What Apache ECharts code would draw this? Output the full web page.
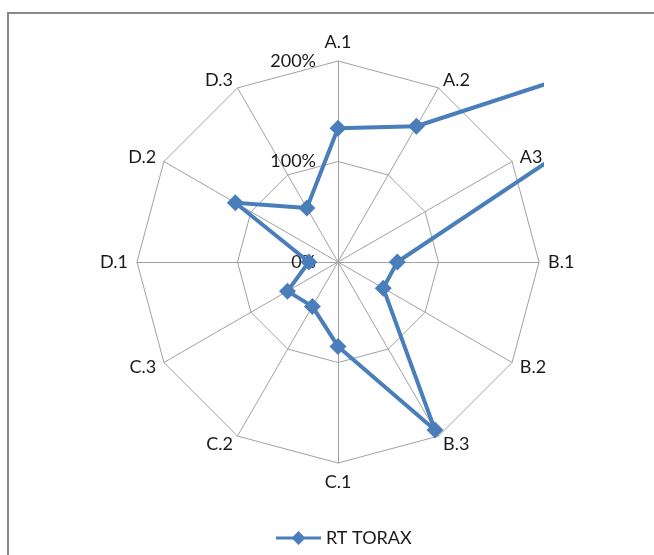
<!DOCTYPE html>
<html>
<head>
<meta charset="utf-8">
<script src="https://cdn.jsdelivr.net/npm/echarts@6/dist/echarts.min.js"></script>
<style>
  html, body { margin: 0; padding: 0; background: #fff; overflow: hidden; }
  #frame { position: absolute; left: 7px; top: 12px; width: 700px; height: 600px;
           border-left: 2px solid #878787; border-top: 2px solid #878787; box-sizing: border-box; }
  #base { position: absolute; left: 0; top: 0; width: 654px; height: 555px; }
  /* the series layer is cut off at the right edge of the plot area */
  #clip { position: absolute; left: 0; top: 0; width: 544px; height: 555px; overflow: hidden; }
  #over { width: 654px; height: 555px; }
</style>
</head>
<body>
<div id="frame"></div>
<div id="base"></div>
<div id="clip"><div id="over"></div></div>
<script>
// Axes, in clockwise order starting at the top
const categories = ['A.1', 'A.2', 'A3', 'B.1', 'B.2', 'B.3', 'C.1', 'C.2', 'C.3', 'D.1', 'D.2', 'D.3'];
// RT TORAX values, in percent
const rtTorax = [133, 156, 505, 59, 52, 193, 84, 51, 58, 29, 118, 62];
// Radial ticks (percent)
const tickValues = [0, 100, 200];
const seriesName = 'RT TORAX';

const BLUE = '#4A7EBB';
const GRID = '#a0a0a0';
const FONT = 'Lato';
const FONT_SIZE = 18;
const CENTER = [338, 262];
const RADIUS = 201;
const axisMax = tickValues[tickValues.length - 1];

// ECharts lays radar indicators out counter-clockwise; reverse all but the first
const order = [0].concat(categories.map((_, i) => i).slice(1).reverse());

function indicators(withLabels) {
  return order.map(i => {
    const ang = i * 360 / categories.length;
    const vertical = ang === 0 || ang === 180;
    const ind = { name: categories[i], max: axisMax, min: 0, nameGap: vertical ? 10 : 9 };
    if (withLabels && i === 0) ind.axisLabel = { show: true };
    return ind;
  });
}

const base = echarts.init(document.getElementById('base'), null, { renderer: 'canvas' });
base.setOption({
  animation: false,
  radar: {
    center: CENTER,
    radius: RADIUS,
    startAngle: 90,
    shape: 'polygon',
    splitNumber: tickValues.length - 1,
    indicator: indicators(true),
    axisName: { color: '#1a1a1a', fontFamily: FONT, fontSize: FONT_SIZE },
    axisLine: { lineStyle: { color: GRID, width: 1 } },
    axisTick: { show: false },
    axisLabel: {
      show: false,
      formatter: v => v + '%',
      color: '#1a1a1a', fontFamily: FONT, fontSize: FONT_SIZE, margin: 22
    },
    splitLine: { lineStyle: { color: GRID, width: 1 } },
    splitArea: { show: false }
  }
});

const over = echarts.init(document.getElementById('over'), null, { renderer: 'canvas' });
over.setOption({
  animation: false,
  legend: {
    left: 271,
    top: 524,
    itemWidth: 45,
    itemHeight: 14,
    data: [{
      name: seriesName,
      icon: 'path://M0,5.5L17,5.5L22.5,0L28,5.5L45,5.5L45,8.5L28,8.5L22.5,14L17,8.5L0,8.5Z'
    }],
    textStyle: { color: '#1a1a1a', fontFamily: FONT, fontSize: FONT_SIZE }
  },
  radar: {
    center: CENTER,
    radius: RADIUS,
    startAngle: 90,
    shape: 'polygon',
    splitNumber: tickValues.length - 1,
    indicator: indicators(false),
    axisName: { show: false },
    axisLine: { show: false },
    axisTick: { show: false },
    axisLabel: { show: false },
    splitLine: { show: false },
    splitArea: { show: false }
  },
  series: [{
    name: seriesName,
    type: 'radar',
    symbol: 'diamond',
    symbolSize: 17,
    lineStyle: { color: BLUE, width: 4 },
    itemStyle: { color: BLUE },
    data: [{ name: seriesName, value: order.map(i => rtTorax[i]) }]
  }]
});
</script>
</body>
</html>
